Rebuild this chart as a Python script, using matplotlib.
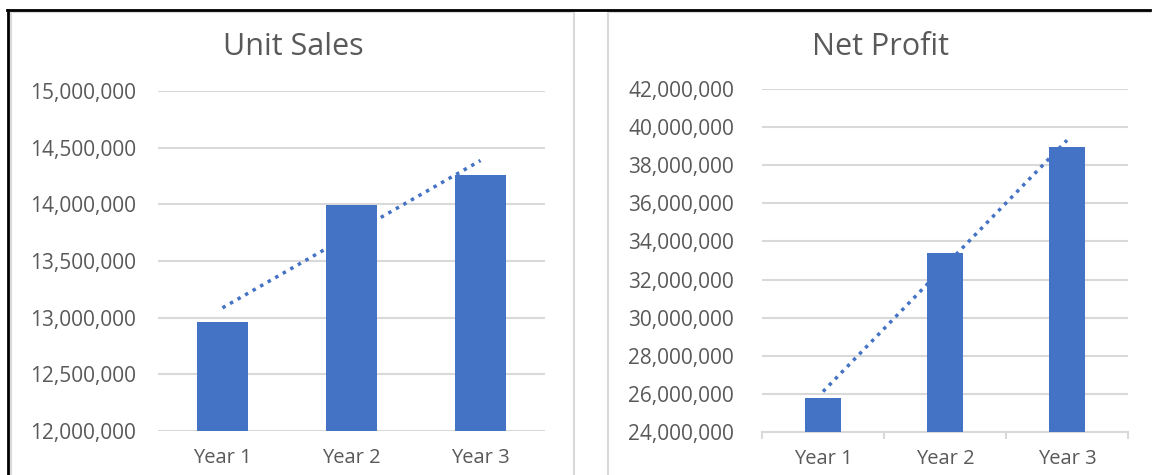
import matplotlib
matplotlib.use("Agg")
import matplotlib.pyplot as plt
from matplotlib.lines import Line2D
from matplotlib.ticker import FuncFormatter, FixedLocator
import numpy as np

plt.rcParams['font.family'] = ['Open Sans', 'DejaVu Sans']

years = ["Year 1", "Year 2", "Year 3"]
unit_sales = [12960000, 13990000, 14260000]
net_profit = [25780000, 33400000, 38970000]

BLUE = "#4472C4"
GRID = "#D9D9D9"
TXT = "#595959"

fig = plt.figure(figsize=(11.54, 4.75), dpi=100)
W, H = 1154, 475

def px(x0, y0, x1, y1):
    return [x0 / W, 1 - y1 / H, (x1 - x0) / W, (y1 - y0) / H]

fmt = FuncFormatter(lambda v, p: f"{v:,.0f}")

def draw_chart(ax, values, ylim, step, width, boundary_ticks, ypad):
    x = np.arange(len(values))
    ax.bar(x, values, width=width, color=BLUE, zorder=3)
    # linear trendline like Excel
    k, b = np.polyfit(x + 1, values, 1)
    ax.plot(x, k * (x + 1) + b, linestyle=(0, (1, 1.5)), color=BLUE,
            linewidth=2.5, zorder=4)
    ax.set_xlim(-0.5, len(values) - 0.5)
    ax.set_ylim(*ylim)
    ax.yaxis.set_major_locator(FixedLocator(np.arange(ylim[0], ylim[1] + 1, step)))
    ax.yaxis.set_major_formatter(fmt)
    ax.grid(axis='y', color=GRID, linewidth=1.5, zorder=0)
    ax.set_axisbelow(True)
    for s in ['top', 'right', 'left']:
        ax.spines[s].set_visible(False)
    ax.set_xticks(x)
    ax.set_xticklabels(years)
    ax.tick_params(axis='x', which='major', length=0, pad=12, labelsize=14.5, labelcolor=TXT)
    ax.tick_params(axis='y', length=0, pad=ypad, labelsize=15, labelcolor=TXT)
    if boundary_ticks:
        ax.spines['bottom'].set_color(GRID)
        ax.spines['bottom'].set_linewidth(1.5)
        ax.set_xticks(np.arange(-0.5, len(values)), minor=True)
        ax.tick_params(axis='x', which='minor', length=5, color=GRID, width=1.5)
    else:
        ax.spines['bottom'].set_visible(False)

ax1 = fig.add_axes(px(158, 91, 545, 431))
draw_chart(ax1, unit_sales, (12000000, 15000000), 500000, 0.4, False, 16)

ax2 = fig.add_axes(px(762, 89, 1128, 432))
draw_chart(ax2, net_profit, (24000000, 42000000), 2000000, 0.3, True, 20)

# titles centred over each chart area
fig.text(293 / W, 1 - 47 / H, "Unit Sales", ha='center', va='center', fontsize=22, color=TXT)
fig.text(881 / W, 1 - 47 / H, "Net Profit", ha='center', va='center', fontsize=22, color=TXT)

def fline(xs, ys, color, lw):
    fig.add_artist(Line2D([v / W for v in xs], [1 - v / H for v in ys],
                          color=color, linewidth=lw, transform=fig.transFigure))

# chart frames
fline([11, 574, 574], [12, 12, 475], GRID, 1.5)
fline([11, 11], [12, 475], GRID, 1.5)
fline([608, 1150], [12, 12], GRID, 1.5)
fline([608, 608], [12, 475], GRID, 1.5)
# outer black border
fline([7, 1150], [10, 10], "black", 2)
fline([8, 8], [10, 475], "black", 2)

fig.savefig("out.png", dpi=100, facecolor="white")
